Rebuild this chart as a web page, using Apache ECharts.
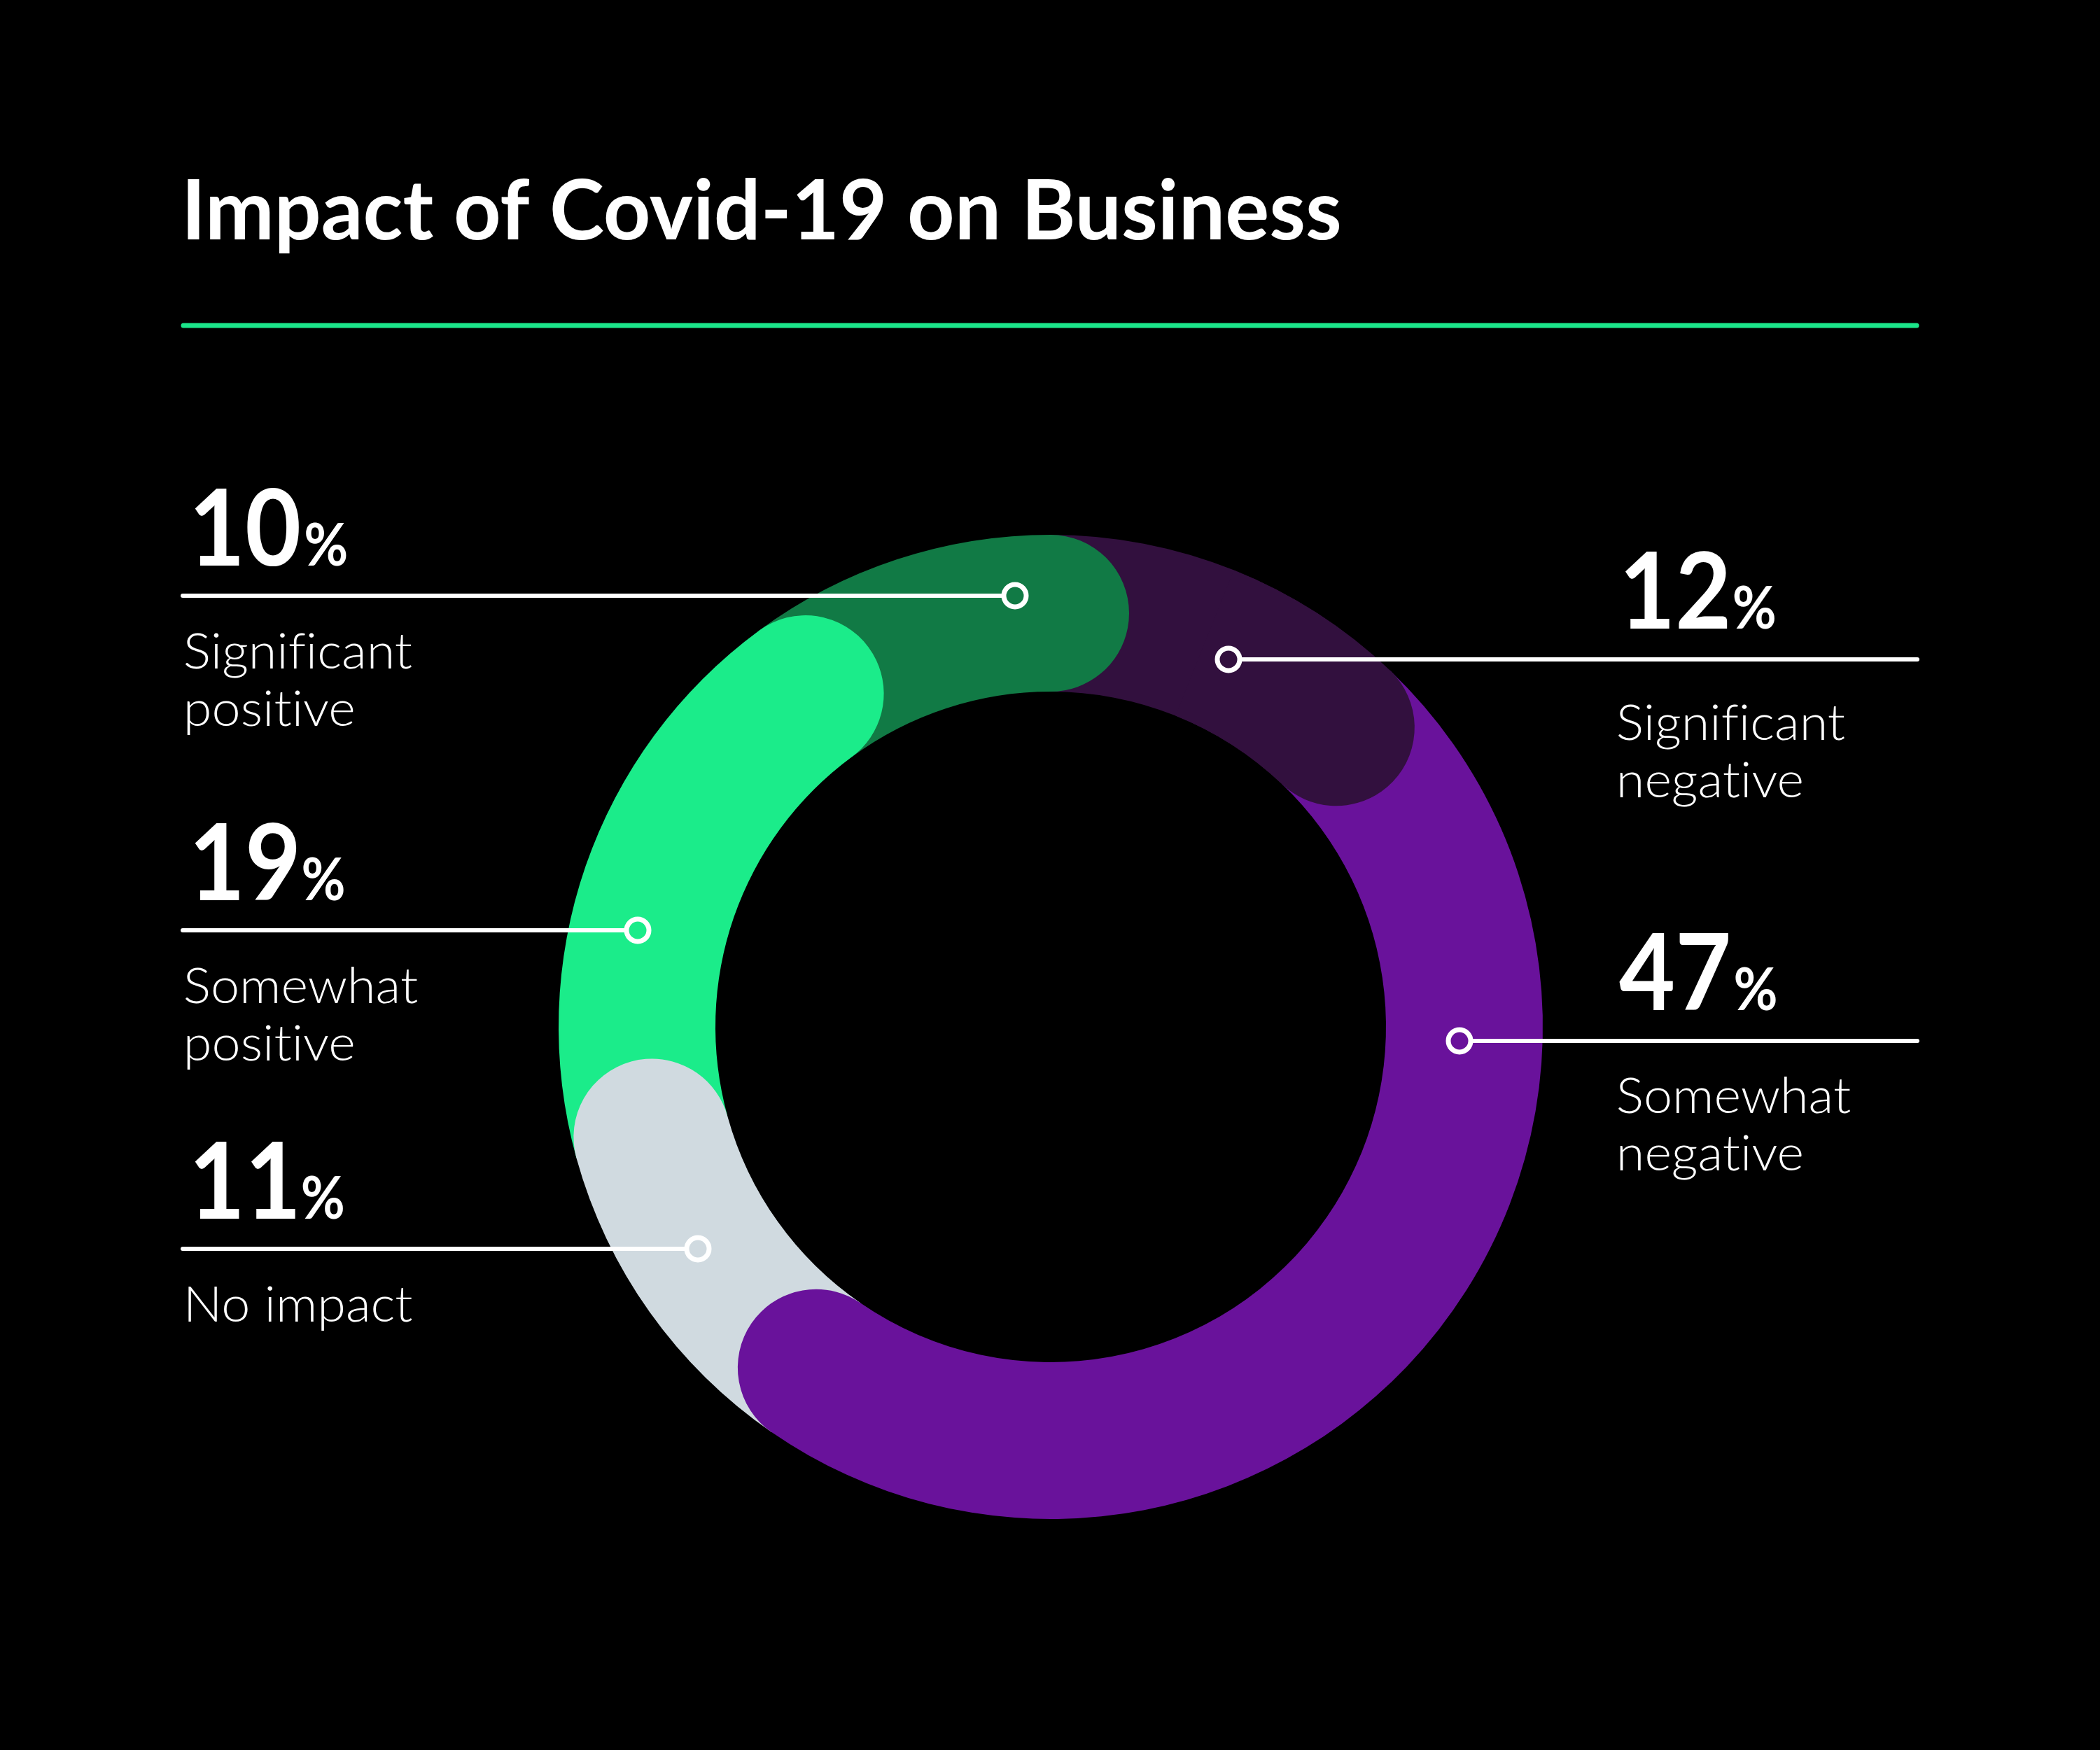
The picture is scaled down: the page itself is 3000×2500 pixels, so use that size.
<!DOCTYPE html>
<html>
<head>
<meta charset="utf-8">
<title>Impact of Covid-19 on Business</title>
<script src="https://cdn.jsdelivr.net/npm/echarts@6/dist/echarts.min.js"></script>
<style>
  html, body { margin: 0; padding: 0; background: #000; }
  #chart { width: 3000px; height: 2500px; }
</style>
</head>
<body>
<div id="chart"></div>
<script>
// data, clockwise from 12 o'clock
var categories = ['Significant\nnegative', 'Somewhat\nnegative', 'No impact', 'Somewhat\npositive', 'Significant\npositive'];
var values = [12, 47, 11, 19, 10];
var titleText = 'Impact of Covid-19 on Business';

// styles
var colors = ['#32103e', '#69129b', '#d0dae0', '#1bec8a', '#117a45'];
var FONT = 'Lato, "Noto Sans", sans-serif';

// ring geometry
var CX = 1501, CY = 1467, R0 = 479, R1 = 703;
var HALF = (R1 - R0) / 2, RM = (R0 + R1) / 2;
var CAP = Math.asin(HALF / RM) * 180 / Math.PI; // angle the round end reaches past the arc end

// where each label block sits (same order as categories)
var labelPos = [
    { side: 'right', lineY: 942, markX: 1755, numBase: 898, descBase: 1057 },
    { side: 'right', lineY: 1487, markX: 2085, numBase: 1443, descBase: 1590 },
    { side: 'left', lineY: 1784, markX: 997, numBase: 1741, descBase: 1888 },
    { side: 'left', lineY: 1329, markX: 911, numBase: 1286, descBase: 1433 },
    { side: 'left', lineY: 851, markX: 1450, numBase: 808, descBase: 955 }
];

var total = values.reduce(function (a, b) { return a + b; }, 0);
var starts = [], ends = [], acc = 0;
values.forEach(function (v) {
    starts.push(acc / total * 360);
    acc += v;
    ends.push(acc / total * 360);
});

// one pie per segment: visible arc + transparent rest, round only at the clockwise end
function arc(i, from, to, z) {
    var span = to - from;
    return {
        type: 'pie',
        silent: true,
        animation: false,
        z: z,
        center: [CX, CY],
        radius: [R0, R1],
        startAngle: 90 - from,
        clockwise: true,
        label: { show: false },
        labelLine: { show: false },
        itemStyle: { borderWidth: 0, borderRadius: [0, HALF, 0, HALF] },
        data: [
            { name: categories[i].replace('\n', ' '), value: span, itemStyle: { color: colors[i] } },
            { name: '', value: 360 - span, itemStyle: { color: 'transparent' } }
        ]
    };
}

var series = [
    arc(0, starts[0], ends[0] + CAP, 1),
    arc(4, starts[4], ends[4] + CAP, 2),
    arc(3, starts[3], ends[3] + CAP, 3),
    arc(2, starts[2], ends[2] + CAP, 4),
    arc(1, starts[1], ends[1] + CAP, 5),
    arc(0, starts[0] + 2 * CAP, ends[0] + CAP, 6) // top copy so its end covers the next start
];

// Lato joins fi / ti, the original does not
function noLig(str) {
    return str.replace(/([ft])(?=[ilt])/g, '$1\u200C');
}

// text measuring so glyphs can be placed by baseline
var ctx = document.createElement('canvas').getContext('2d');
function measure(str, size, weight) {
    ctx.font = weight + ' ' + size + 'px ' + FONT;
    ctx.textBaseline = 'alphabetic';
    var a = ctx.measureText(str);
    ctx.textBaseline = 'middle';
    var m = ctx.measureText(str);
    return {
        left: -a.actualBoundingBoxLeft,
        right: a.actualBoundingBoxRight,
        mid: a.actualBoundingBoxAscent - m.actualBoundingBoxAscent
    };
}

function txt(str, originX, base, size, weight, scale) {
    var m = measure(str, size, weight);
    return {
        type: 'text', z: 100, silent: true,
        x: originX, y: base - m.mid, scaleX: scale,
        style: {
            text: str, fill: '#fff',
            fontFamily: FONT, fontSize: size, fontWeight: weight,
            align: 'left', verticalAlign: 'middle'
        }
    };
}

var graphics = [];

// title
var TS = 118;
var tm = measure(titleText, TS, 700);
var tScale = 1646 / (tm.right - tm.left);
graphics.push(txt(titleText, 268 - tm.left * tScale, 342, TS, 700, tScale));
graphics.push({
    type: 'line', z: 100, silent: true,
    shape: { x1: 262, y1: 465, x2: 2738, y2: 465 },
    style: { stroke: '#1be58a', lineWidth: 7, lineCap: 'round' }
});

// labels
var NS = 151, PS = 84, DS = 70, DLH = 82;
var m10 = measure('10', NS, 700);
var nScale = 149 / (m10.right - m10.left);
var numOrigin = { left: 278 - m10.left * nScale, right: 2313 - measure('47', NS, 700).left * nScale };
var mSig = measure(noLig('Significant'), DS, 300);
var dScale = 323 / (mSig.right - mSig.left);
var descOrigin = { left: 265 - mSig.left * dScale, right: 2312 - mSig.left * dScale };

values.forEach(function (v, i) {
    var p = labelPos[i];
    var num = String(v);
    var nm = measure(num, NS, 700);
    var nx = numOrigin[p.side];
    graphics.push(txt(num, nx, p.numBase, NS, 700, nScale));
    var pm = measure('%', PS, 700);
    var inkRight = nx + nm.right * nScale;
    graphics.push(txt('%', inkRight + 10 - pm.left * nScale, p.numBase, PS, 700, nScale));

    categories[i].split('\n').forEach(function (line, k) {
        graphics.push(txt(noLig(line), descOrigin[p.side], p.descBase + k * DLH, DS, 300, dScale));
    });

    var x1 = p.side === 'left' ? 261 : p.markX;
    var x2 = p.side === 'left' ? p.markX : 2739;
    graphics.push({
        type: 'line', z: 100, silent: true,
        shape: { x1: x1, y1: p.lineY, x2: x2, y2: p.lineY },
        style: { stroke: '#fff', lineWidth: 6, lineCap: 'round' }
    });
    graphics.push({
        type: 'circle', z: 101, silent: true,
        shape: { cx: p.markX, cy: p.lineY, r: 16 },
        style: { fill: colors[i], stroke: '#fff', lineWidth: 7 }
    });
});

var chart = echarts.init(document.getElementById('chart'));
chart.setOption({
    backgroundColor: '#000',
    animation: false,
    series: series,
    graphic: graphics
});
</script>
</body>
</html>
